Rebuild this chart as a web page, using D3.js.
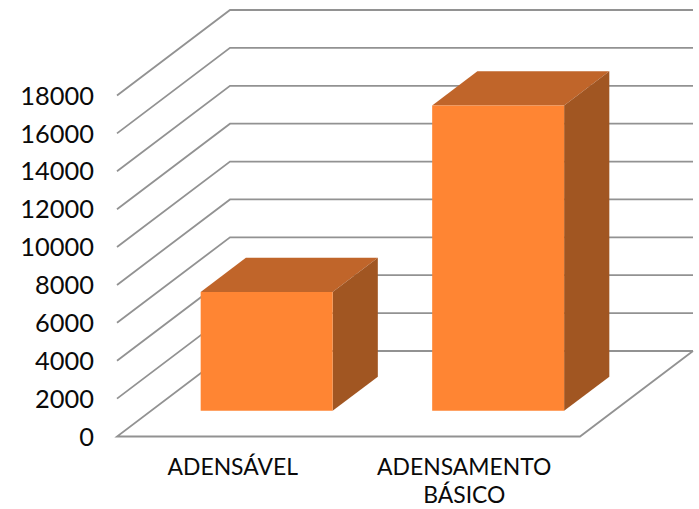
<!DOCTYPE html>
<html><head><meta charset="utf-8">
<script src="https://d3js.org/d3.v7.min.js"></script>
<style>html,body{margin:0;padding:0;background:#fff}svg{display:block}text{font-family:Lato,sans-serif;fill:#0a0a0a}</style>
</head><body><svg id="c" width="699" height="509"></svg>
<script>
const categories = ["ADENSÁVEL", "ADENSAMENTO BÁSICO"];
const categoryLines = [["ADENSÁVEL"], ["ADENSAMENTO", "BÁSICO"]];
const values = [6280, 16120];
const tickValues = [0,2000,4000,6000,8000,10000,12000,14000,16000,18000];

const svg = d3.select("#c");
const y = d3.scaleLinear().domain([0,18000]).range([436.5,95.5]);
const x = d3.scaleBand().domain(categories).range([117,580]).paddingInner(0.43).paddingOuter(0.215);
const depth = d3.scaleLinear().domain([0,1]).range([0,1]);
const DX = 113, DY = -85.5;
const px = (xv,d)=>xv+depth(d)*DX, py=(yv,d)=>yv+depth(d)*DY;
const line = d3.line();
const gridColor = "#929292";

// floor
svg.append("path").attr("fill","none").attr("stroke",gridColor).attr("stroke-width",1.8)
  .attr("d", line([[px(117,1),py(y(0),1)],[117,y(0)],[580,y(0)],[px(580,1),py(y(0),1)]]));
// gridlines (left wall + back wall)
svg.append("g").selectAll("path").data(tickValues).join("path")
  .attr("fill","none").attr("stroke",gridColor).attr("stroke-width",1.8)
  .attr("d", t => line([
    ...(t===0?[]:[[117,y(t)]]),
    [px(117,1),py(y(t),1)],
    [px(580,1),py(y(t),1)]
  ]));

// bars
const front=.3, back=.7;
const bars = svg.append("g").selectAll("g").data(categories).join("g");
const pts = arr => arr.map(p=>p.join(",")).join(" ");
bars.append("polygon").attr("fill","#C0652A").attr("points",(c,i)=>{
  const l=x(c), r=l+x.bandwidth(), t=y(values[i]);
  return pts([[px(l,front),py(t,front)],[px(r,front),py(t,front)],[px(r,back),py(t,back)],[px(l,back),py(t,back)]]);
});
bars.append("polygon").attr("fill","#A15622").attr("points",(c,i)=>{
  const r=x(c)+x.bandwidth(), t=y(values[i]), b=y(0);
  return pts([[px(r,front),py(t,front)],[px(r,back),py(t,back)],[px(r,back),py(b,back)],[px(r,front),py(b,front)]]);
});
bars.append("polygon").attr("fill","#FF8533").attr("points",(c,i)=>{
  const l=x(c), r=l+x.bandwidth(), t=y(values[i]), b=y(0);
  return pts([[px(l,front),py(t,front)],[px(r,front),py(t,front)],[px(r,front),py(b,front)],[px(l,front),py(b,front)]]);
});

// y axis
const ax = svg.append("g").attr("transform","translate(94,0)")
  .call(d3.axisLeft(y).tickValues(tickValues).tickSize(0).tickPadding(0).tickFormat(d3.format("d")));
ax.select(".domain").remove();
ax.selectAll("text").attr("font-size",25.4).style("font-family","Lato,sans-serif").attr("dy","0.34em").attr("fill","#0a0a0a");

// x labels
const xl = svg.append("g").selectAll("text").data(categories).join("text")
  .attr("text-anchor","middle").attr("font-size",22.9)
  .attr("x",c=>x(c)+x.bandwidth()/2).attr("y",475);
xl.selectAll("tspan").data((c,i)=>categoryLines[i]).join("tspan")
  .attr("x",function(){return d3.select(this.parentNode).attr("x")})
  .attr("dy",(d,i)=>i?28:0).text(d=>d);
</script></body></html>
